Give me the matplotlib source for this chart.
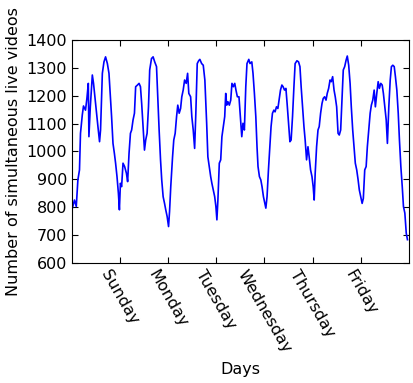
import numpy as np
import matplotlib
matplotlib.use('Agg')
import matplotlib.pyplot as plt

# hours since start of week
hours = [
    0.0, 1.3, 2.2, 3.0, 3.8, 4.3, 5.2, 5.8, 6.8, 7.5, 8.2, 8.5, 9.2, 10.2, 10.8, 11.8,
    13.0, 13.8, 14.3, 15.2, 16.0, 16.8, 17.7, 18.5, 19.2, 19.8, 20.5, 21.2, 21.8, 22.5,
    23.2, 23.7, 24.2, 24.8, 25.5, 26.3, 27.2, 27.8, 28.5, 29.2, 29.8, 30.5, 31.2, 31.8,
    32.7, 33.5, 34.2, 34.8, 35.5, 36.2, 36.8, 37.5, 38.2, 38.8, 39.7, 40.5, 41.3, 42.2,
    42.8, 43.5, 44.2, 44.8, 45.5, 46.2, 46.8, 47.5, 48.2, 48.7, 49.3, 50.2, 50.8, 51.5,
    52.2, 52.8, 53.5, 54.2, 54.8, 55.5, 56.2, 57.0, 57.7, 58.3, 59.2, 59.8, 60.5, 61.2,
    61.8, 62.5, 63.2, 63.8, 64.7, 65.5, 66.3, 67.2, 67.8, 68.5, 69.2, 69.8, 70.5, 71.2,
    71.8, 72.3, 72.8, 73.5, 74.2, 74.8, 75.5, 76.2, 76.7, 77.2, 77.8, 78.5, 79.2, 79.8,
    80.5, 81.2, 81.8, 82.5, 83.3, 84.0, 84.7, 85.3, 86.0, 86.7, 87.3, 88.2, 88.8, 89.7,
    90.3, 91.0, 91.7, 92.3, 92.8, 93.5, 94.2, 94.8, 95.5, 96.2, 96.7, 97.3, 98.0, 98.7,
    99.3, 100.0, 100.7, 101.3, 102.0, 102.7, 103.3, 104.0, 104.7, 105.3, 106.0, 106.7,
    107.3, 108.0, 108.7, 109.3, 110.0, 110.7, 111.3, 112.2, 113.0, 113.7, 114.3, 115.0,
    115.7, 116.3, 117.0, 117.7, 118.3, 119.0, 119.7, 120.3, 120.8, 121.3, 122.0, 122.7,
    123.3, 124.0, 124.7, 125.3, 126.0, 126.7, 127.3, 128.0, 128.7, 129.3, 130.0, 130.7,
    131.3, 132.0, 132.7, 133.3, 134.0, 134.7, 135.3, 136.0, 136.7, 137.3, 138.0, 138.7,
    139.3, 140.0, 140.7, 141.3, 142.0, 142.7, 143.3, 144.0, 144.7, 145.3, 146.0, 146.7,
    147.3, 148.0, 148.7, 149.3, 150.0, 150.7, 151.3, 152.0, 152.7, 153.3, 154.0, 154.7,
    155.3, 156.0, 156.7, 157.3, 158.0, 158.7, 159.3, 160.0, 160.7, 161.3, 162.0, 162.7,
    163.3, 164.0, 164.7, 165.3, 166.0, 166.7, 167.3,
]

videos = [
    790, 826, 803, 898, 934, 1065, 1131, 1163, 1148, 1190, 1244, 1053, 1160, 1274, 1244, 1172,
    1089, 1035, 1077, 1280, 1321, 1339, 1315, 1280, 1196, 1125, 1029, 993, 958, 910,
    850, 791, 886, 874, 958, 946, 922, 892, 993, 1065, 1077, 1113, 1137, 1232,
    1238, 1244, 1232, 1172, 1089, 1005, 1041, 1065, 1160, 1292, 1333, 1339, 1321, 1304,
    1196, 1077, 970, 898, 838, 814, 791, 767, 731, 785, 874, 981, 1041, 1065,
    1125, 1166, 1137, 1154, 1196, 1220, 1256, 1244, 1280, 1208, 1196, 1125, 1077, 1011,
    1137, 1315, 1325, 1330, 1315, 1309, 1256, 1101, 981, 946, 910, 886, 862, 838,
    803, 755, 826, 958, 970, 1053, 1089, 1125, 1208, 1166, 1178, 1166, 1184, 1244,
    1232, 1244, 1220, 1196, 1196, 1125, 1053, 1101, 1077, 1232, 1315, 1330, 1315, 1321,
    1280, 1208, 1125, 1017, 946, 910, 898, 874, 838, 814, 797, 838, 934, 1017,
    1089, 1137, 1148, 1142, 1160, 1154, 1184, 1220, 1238, 1232, 1220, 1226,
    1172, 1101, 1035, 1041, 1125, 1232, 1315, 1325, 1321, 1304, 1232, 1160,
    1089, 1041, 970, 1017, 981, 934, 910, 874, 826, 922, 1017, 1077,
    1089, 1137, 1172, 1190, 1196, 1184, 1208, 1226, 1256, 1250, 1268, 1220,
    1196, 1160, 1065, 1059, 1077, 1196, 1292, 1304, 1327, 1342, 1309, 1244,
    1160, 1077, 1011, 958, 934, 898, 862, 838, 814, 832, 934, 946,
    1017, 1077, 1137, 1166, 1184, 1220, 1160, 1208, 1250, 1226, 1244, 1238,
    1208, 1160, 1113, 1029, 1160, 1256, 1304, 1309, 1304, 1268, 1220, 1137,
    1041, 946, 874, 803, 779, 707, 684,
]

day_ticks = [24, 48, 72, 96, 120, 144]
day_labels = ['Sunday', 'Monday', 'Tuesday', 'Wednesday', 'Thursday', 'Friday']

fig = plt.figure(figsize=(4.13, 3.83), dpi=100)
ax = fig.add_axes([0.174, 0.313, 0.816, 0.583])
ax.plot(hours, videos, color='#0000ff', lw=1.2)

ax.set_xlim(0, 168)
ax.set_ylim(600, 1400)
ax.set_yticks(np.arange(600, 1401, 100))
ax.set_xticks(day_ticks)
ax.set_xticklabels(day_labels, rotation=-60, fontsize=11.5)
ax.tick_params(axis='y', labelsize=11.5)
ax.tick_params(direction='in', top=True, right=True, length=4)
ax.set_xlabel('Days', fontsize=11.5)
ax.set_ylabel('Number of simultaneous live videos', fontsize=11.5)

fig.savefig('out.png', dpi=100)
